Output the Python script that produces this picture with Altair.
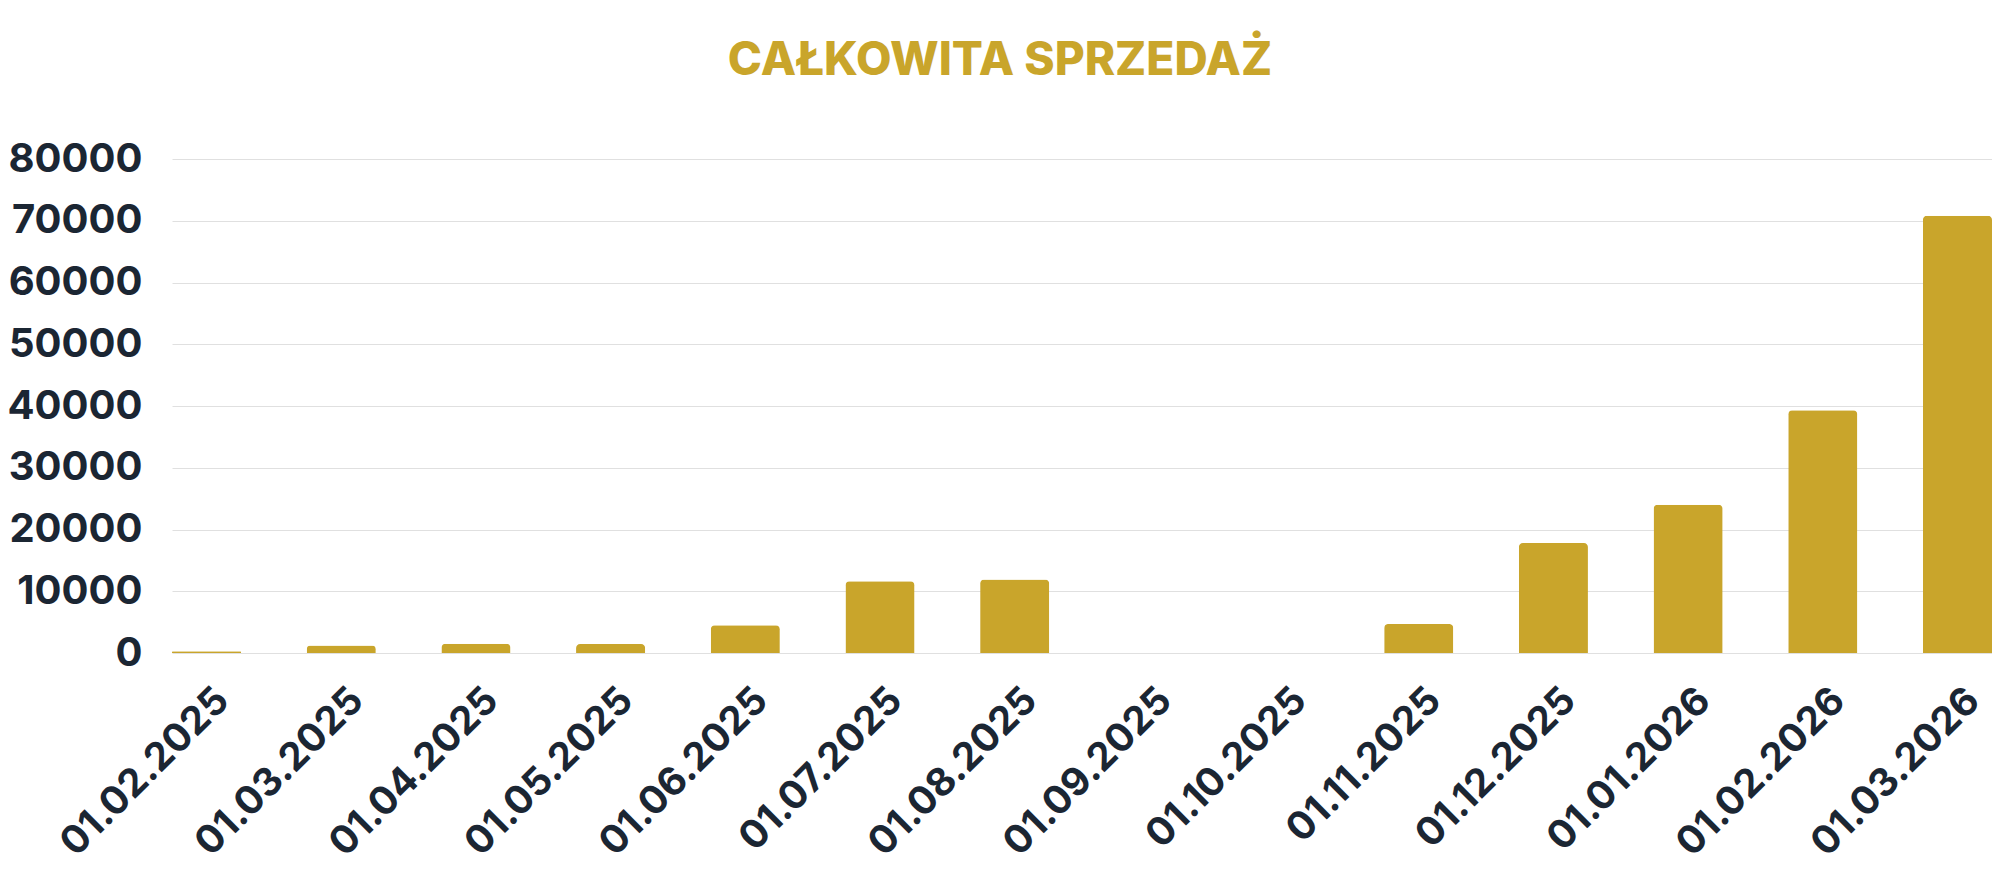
import altair as alt
import pandas as pd

dates = ["01.02.2025", "01.03.2025", "01.04.2025", "01.05.2025", "01.06.2025",
         "01.07.2025", "01.08.2025", "01.09.2025", "01.10.2025", "01.11.2025",
         "01.12.2025", "01.01.2026", "01.02.2026", "01.03.2026"]
values = [300, 1200, 1500, 1450, 4500, 11600, 11900, 0, 0, 4700, 17800, 24000, 39300, 70800]
y_ticks = [0, 10000, 20000, 30000, 40000, 50000, 60000, 70000, 80000]
title_text = "CAŁKOWITA SPRZEDAŻ"

GOLD = "#C9A52B"
DARK = "#1B2633"
FONT = "Inter"

df = pd.DataFrame({"date": dates, "value": values})

chart = alt.Chart(df).mark_bar(
    color=GOLD, cornerRadiusTopLeft=4, cornerRadiusTopRight=4
).encode(
    x=alt.X("date:N", sort=dates,
            scale=alt.Scale(paddingInner=0.487, paddingOuter=0),
            axis=alt.Axis(title=None, labelAngle=-45, labelAlign="right",
                          labelBaseline="middle", labelPadding=41, labelOffset=16,
                          ticks=False, tickSize=0, domain=False, grid=False,
                          labelFont=FONT, labelFontSize=39, labelFontWeight=700,
                          labelColor=DARK, labelOverlap=False, labelLimit=0)),
    y=alt.Y("value:Q", scale=alt.Scale(domain=[0, 80000], nice=False, zero=True),
            axis=alt.Axis(title=None, values=y_ticks, format="d", ticks=False, tickSize=0,
                          domain=False, grid=True, gridColor="#E0E0E0", gridWidth=1,
                          labelFont=FONT, labelFontSize=40, labelFontWeight=700,
                          labelColor=DARK, labelPadding=30, labelFlush=False,
                          labelOverlap=False, labelLimit=0)),
).properties(
    width=1820, height=494,
    title=alt.TitleParams(title_text, font=FONT, fontSize=46, fontWeight=800,
                          color=GOLD, anchor="middle", frame="group", dx=-82, offset=54),
    autosize=alt.AutoSizeParams(type="none"),
    padding={"left": 164, "top": 151, "right": 0, "bottom": 234},
).configure_view(stroke=None)

chart.save("out.html", embed_options={"renderer": "svg", "actions": False})
